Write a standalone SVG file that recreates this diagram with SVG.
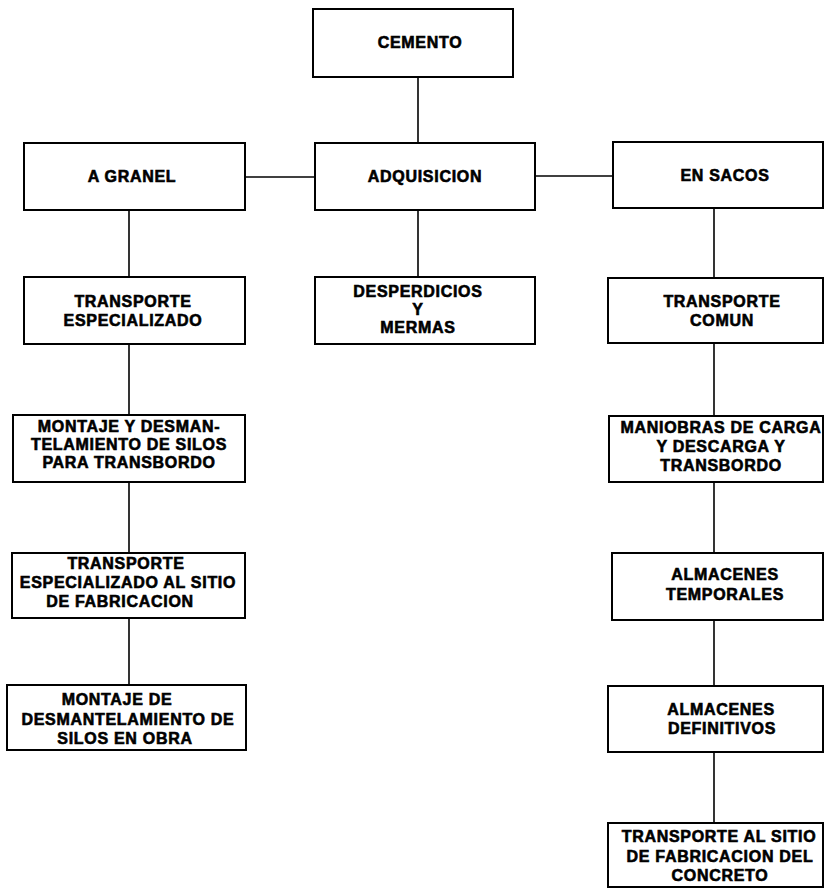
<svg xmlns="http://www.w3.org/2000/svg" width="824" height="888" viewBox="0 0 824 888">
<style>
.box{fill:#fff;stroke:#000;stroke-width:2}
.t{font-family:"Liberation Sans",Arial,sans-serif;font-weight:bold;font-size:16px;letter-spacing:0.7px;text-anchor:middle;fill:#000;stroke:#000;stroke-width:0.6}
.ln{stroke:#000;stroke-width:1.6;fill:none}
</style>
<rect width="824" height="888" fill="#fff"/>
<g id="connectors">
<line class="ln" x1="418" y1="77" x2="418" y2="143"/>
<line class="ln" x1="245" y1="177" x2="315" y2="177"/>
<line class="ln" x1="535" y1="176" x2="613" y2="176"/>
<line class="ln" x1="418" y1="210" x2="418" y2="277"/>
<line class="ln" x1="129" y1="210" x2="129" y2="277"/>
<line class="ln" x1="129" y1="344" x2="129" y2="415"/>
<line class="ln" x1="129" y1="482" x2="129" y2="553"/>
<line class="ln" x1="129" y1="618" x2="129" y2="685"/>
<line class="ln" x1="714" y1="208" x2="714" y2="278"/>
<line class="ln" x1="714" y1="343" x2="714" y2="416"/>
<line class="ln" x1="714" y1="482" x2="714" y2="553"/>
<line class="ln" x1="714" y1="620" x2="714" y2="686"/>
<line class="ln" x1="714" y1="752" x2="714" y2="823"/>
</g>
<g id="cemento"><rect class="box" x="313" y="9" width="200" height="68"/><text class="t" x="420" y="48">CEMENTO</text></g>
<g id="a-granel"><rect class="box" x="24" y="143" width="221" height="67"/><text class="t" x="132" y="182">A GRANEL</text></g>
<g id="adquisicion"><rect class="box" x="315" y="143" width="220" height="67"/><text class="t" x="425" y="182">ADQUISICION</text></g>
<g id="en-sacos"><rect class="box" x="613" y="142" width="210" height="66"/><text class="t" x="725" y="181">EN SACOS</text></g>
<g id="transporte-especializado"><rect class="box" x="24" y="277" width="221" height="67"/><text class="t" x="133" y="307">TRANSPORTE</text><text class="t" x="133" y="326">ESPECIALIZADO</text></g>
<g id="desperdicios"><rect class="box" x="315" y="277" width="220" height="67"/><text class="t" x="418" y="297">DESPERDICIOS</text><text class="t" x="418" y="315">Y</text><text class="t" x="418" y="333">MERMAS</text></g>
<g id="transporte-comun"><rect class="box" x="608" y="278" width="215" height="65"/><text class="t" x="722" y="307">TRANSPORTE</text><text class="t" x="722" y="326">COMUN</text></g>
<g id="montaje-desmantelamiento"><rect class="box" x="13" y="415" width="232" height="67"/><text class="t" x="129" y="432">MONTAJE Y DESMAN-</text><text class="t" x="129" y="450">TELAMIENTO DE SILOS</text><text class="t" x="129" y="468">PARA TRANSBORDO</text></g>
<g id="maniobras"><rect class="box" x="609" y="416" width="214" height="66"/><text class="t" x="721" y="433">MANIOBRAS DE CARGA</text><text class="t" x="721" y="452">Y DESCARGA Y</text><text class="t" x="721" y="471">TRANSBORDO</text></g>
<g id="transporte-especializado-sitio"><rect class="box" x="12" y="553" width="233" height="65"/><text class="t" x="126" y="569">TRANSPORTE</text><text class="t" x="128" y="588">ESPECIALIZADO AL SITIO</text><text class="t" x="120" y="607">DE FABRICACION</text></g>
<g id="almacenes-temporales"><rect class="box" x="612" y="553" width="211" height="67"/><text class="t" x="725" y="580">ALMACENES</text><text class="t" x="725" y="600">TEMPORALES</text></g>
<g id="montaje-obra"><rect class="box" x="7" y="685" width="239" height="65"/><text class="t" x="117" y="705">MONTAJE DE</text><text class="t" x="128" y="725">DESMANTELAMIENTO DE</text><text class="t" x="125" y="744">SILOS EN OBRA</text></g>
<g id="almacenes-definitivos"><rect class="box" x="608" y="686" width="215" height="66"/><text class="t" x="721" y="715">ALMACENES</text><text class="t" x="722" y="734">DEFINITIVOS</text></g>
<g id="transporte-sitio-concreto"><rect class="box" x="608" y="823" width="215" height="64"/><text class="t" x="719" y="842">TRANSPORTE AL SITIO</text><text class="t" x="720" y="862">DE FABRICACION DEL</text><text class="t" x="720" y="881">CONCRETO</text></g>
</svg>
